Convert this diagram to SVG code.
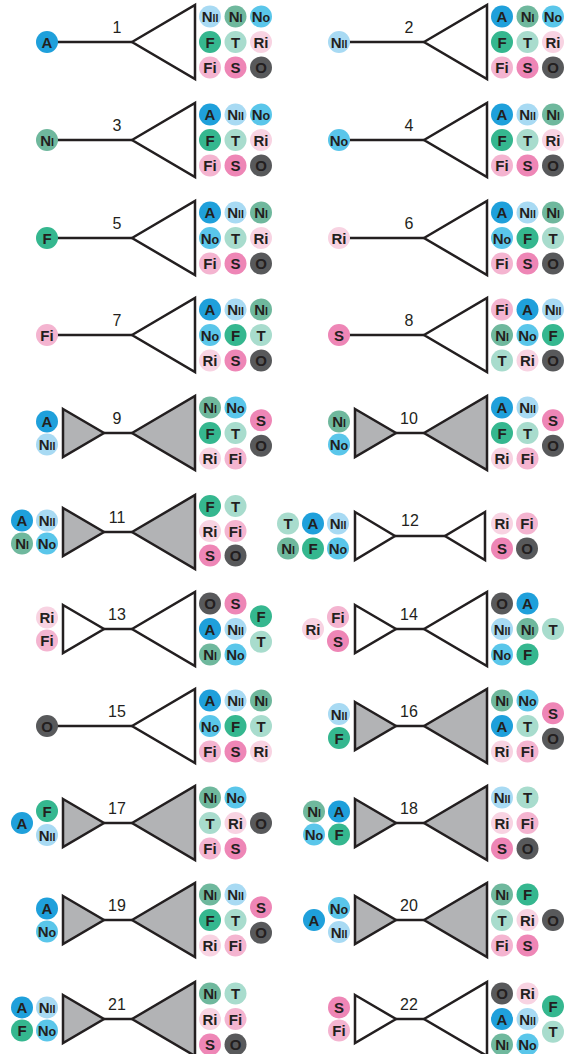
<svg xmlns="http://www.w3.org/2000/svg" xmlns:xlink="http://www.w3.org/1999/xlink" width="567" height="1054" viewBox="0 0 567 1054">
<style>
.tri{stroke:#231f20;stroke-width:2.5;stroke-linejoin:miter;fill:#fff}
.gr{fill:#b2b3b5}
.lbl{font-family:"Liberation Sans",Arial,sans-serif;font-size:16px;fill:#231f20;text-anchor:middle}
.con line{stroke:#231f20;stroke-width:2.5}
</style>
<defs>
<g id="tA"><circle r="11" fill="#1fa0db"/><text y="5.5" font-family="Liberation Sans, Arial, sans-serif" font-weight="700" font-size="15" text-anchor="middle" fill="#231f20">A</text></g>
<g id="tNii"><circle r="11" fill="#a8daf3"/><text y="5.5" font-family="Liberation Sans, Arial, sans-serif" font-weight="700" font-size="15" text-anchor="middle" fill="#231f20">N<tspan font-size="10.5">II</tspan></text></g>
<g id="tNi"><circle r="11" fill="#6fb89d"/><text y="5.5" font-family="Liberation Sans, Arial, sans-serif" font-weight="700" font-size="15" text-anchor="middle" fill="#231f20">N<tspan font-size="10.5">I</tspan></text></g>
<g id="tNo"><circle r="11" fill="#5ac6ea"/><text y="5.5" font-family="Liberation Sans, Arial, sans-serif" font-weight="700" font-size="15" text-anchor="middle" fill="#231f20">N<tspan font-size="12.5">o</tspan></text></g>
<g id="tF"><circle r="11" fill="#35b78f"/><text y="5.5" font-family="Liberation Sans, Arial, sans-serif" font-weight="700" font-size="15" text-anchor="middle" fill="#231f20">F</text></g>
<g id="tT"><circle r="11" fill="#a8dccd"/><text y="5.5" font-family="Liberation Sans, Arial, sans-serif" font-weight="700" font-size="15" text-anchor="middle" fill="#231f20">T</text></g>
<g id="tRi"><circle r="11" fill="#f8d3e2"/><text y="5.5" font-family="Liberation Sans, Arial, sans-serif" font-weight="700" font-size="15" text-anchor="middle" fill="#231f20">Ri</text></g>
<g id="tFi"><circle r="11" fill="#f4b4d0"/><text y="5.5" font-family="Liberation Sans, Arial, sans-serif" font-weight="700" font-size="15" text-anchor="middle" fill="#231f20">Fi</text></g>
<g id="tS"><circle r="11" fill="#ee86b6"/><text y="5.5" font-family="Liberation Sans, Arial, sans-serif" font-weight="700" font-size="15" text-anchor="middle" fill="#231f20">S</text></g>
<g id="tO"><circle r="11" fill="#58595b"/><text y="5.5" font-family="Liberation Sans, Arial, sans-serif" font-weight="700" font-size="15" text-anchor="middle" fill="#231f20">O</text></g>
<polygon id="big" class="tri" points="132,0 195,-37 195,37"/>
<polygon id="bigG" class="tri gr" points="132,0 195,-37 195,37"/>
<polygon id="sm" class="tri" points="63,-24 104,0 63,24"/>
<polygon id="smG" class="tri gr" points="63,-24 104,0 63,24"/>
</defs>
<rect width="567" height="1054" fill="#fff"/>

<g id="connectors" class="con">
<line x1="47" y1="42" x2="132" y2="42"/>
<line x1="339" y1="42" x2="424" y2="42"/>
<line x1="47" y1="140" x2="132" y2="140"/>
<line x1="339" y1="140" x2="424" y2="140"/>
<line x1="47" y1="238" x2="132" y2="238"/>
<line x1="339" y1="238" x2="424" y2="238"/>
<line x1="47" y1="335" x2="132" y2="335"/>
<line x1="339" y1="335" x2="424" y2="335"/>
<line x1="104" y1="433" x2="132" y2="433"/>
<line x1="396" y1="433" x2="424" y2="433"/>
<line x1="104" y1="532" x2="132" y2="532"/>
<line x1="395" y1="536" x2="445" y2="536"/>
<line x1="104" y1="629" x2="132" y2="629"/>
<line x1="396" y1="629" x2="424" y2="629"/>
<line x1="47" y1="726" x2="132" y2="726"/>
<line x1="396" y1="726" x2="424" y2="726"/>
<line x1="104" y1="823" x2="132" y2="823"/>
<line x1="396" y1="823" x2="424" y2="823"/>
<line x1="104" y1="920" x2="132" y2="920"/>
<line x1="396" y1="920" x2="424" y2="920"/>
<line x1="104" y1="1019" x2="132" y2="1019"/>
<line x1="396" y1="1019" x2="424" y2="1019"/>
</g>

<g id="p1" transform="translate(0,42)">
<use href="#big"/><text class="lbl" x="117" y="-9">1</text>
<use href="#tA" x="47" y="0"/>
<use href="#tNii" x="210" y="-25.5"/><use href="#tNi" x="235.5" y="-25.5"/><use href="#tNo" x="261" y="-25.5"/>
<use href="#tF" x="210" y="0"/><use href="#tT" x="235.5" y="0"/><use href="#tRi" x="261" y="0"/>
<use href="#tFi" x="210" y="25.5"/><use href="#tS" x="235.5" y="25.5"/><use href="#tO" x="261" y="25.5"/>
</g>
<g id="p2" transform="translate(292,42)">
<use href="#big"/><text class="lbl" x="117" y="-9">2</text>
<use href="#tNii" x="47" y="0"/>
<use href="#tA" x="210" y="-25.5"/><use href="#tNi" x="235.5" y="-25.5"/><use href="#tNo" x="261" y="-25.5"/>
<use href="#tF" x="210" y="0"/><use href="#tT" x="235.5" y="0"/><use href="#tRi" x="261" y="0"/>
<use href="#tFi" x="210" y="25.5"/><use href="#tS" x="235.5" y="25.5"/><use href="#tO" x="261" y="25.5"/>
</g>
<g id="p3" transform="translate(0,140)">
<use href="#big"/><text class="lbl" x="117" y="-9">3</text>
<use href="#tNi" x="47" y="0"/>
<use href="#tA" x="210" y="-25.5"/><use href="#tNii" x="235.5" y="-25.5"/><use href="#tNo" x="261" y="-25.5"/>
<use href="#tF" x="210" y="0"/><use href="#tT" x="235.5" y="0"/><use href="#tRi" x="261" y="0"/>
<use href="#tFi" x="210" y="25.5"/><use href="#tS" x="235.5" y="25.5"/><use href="#tO" x="261" y="25.5"/>
</g>
<g id="p4" transform="translate(292,140)">
<use href="#big"/><text class="lbl" x="117" y="-9">4</text>
<use href="#tNo" x="47" y="0"/>
<use href="#tA" x="210" y="-25.5"/><use href="#tNii" x="235.5" y="-25.5"/><use href="#tNi" x="261" y="-25.5"/>
<use href="#tF" x="210" y="0"/><use href="#tT" x="235.5" y="0"/><use href="#tRi" x="261" y="0"/>
<use href="#tFi" x="210" y="25.5"/><use href="#tS" x="235.5" y="25.5"/><use href="#tO" x="261" y="25.5"/>
</g>
<g id="p5" transform="translate(0,238)">
<use href="#big"/><text class="lbl" x="117" y="-9">5</text>
<use href="#tF" x="47" y="0"/>
<use href="#tA" x="210" y="-25.5"/><use href="#tNii" x="235.5" y="-25.5"/><use href="#tNi" x="261" y="-25.5"/>
<use href="#tNo" x="210" y="0"/><use href="#tT" x="235.5" y="0"/><use href="#tRi" x="261" y="0"/>
<use href="#tFi" x="210" y="25.5"/><use href="#tS" x="235.5" y="25.5"/><use href="#tO" x="261" y="25.5"/>
</g>
<g id="p6" transform="translate(292,238)">
<use href="#big"/><text class="lbl" x="117" y="-9">6</text>
<use href="#tRi" x="47" y="0"/>
<use href="#tA" x="210" y="-25.5"/><use href="#tNii" x="235.5" y="-25.5"/><use href="#tNi" x="261" y="-25.5"/>
<use href="#tNo" x="210" y="0"/><use href="#tF" x="235.5" y="0"/><use href="#tT" x="261" y="0"/>
<use href="#tFi" x="210" y="25.5"/><use href="#tS" x="235.5" y="25.5"/><use href="#tO" x="261" y="25.5"/>
</g>
<g id="p7" transform="translate(0,335)">
<use href="#big"/><text class="lbl" x="117" y="-9">7</text>
<use href="#tFi" x="47" y="0"/>
<use href="#tA" x="210" y="-25.5"/><use href="#tNii" x="235.5" y="-25.5"/><use href="#tNi" x="261" y="-25.5"/>
<use href="#tNo" x="210" y="0"/><use href="#tF" x="235.5" y="0"/><use href="#tT" x="261" y="0"/>
<use href="#tRi" x="210" y="25.5"/><use href="#tS" x="235.5" y="25.5"/><use href="#tO" x="261" y="25.5"/>
</g>
<g id="p8" transform="translate(292,335)">
<use href="#big"/><text class="lbl" x="117" y="-9">8</text>
<use href="#tS" x="47" y="0"/>
<use href="#tFi" x="210" y="-25.5"/><use href="#tA" x="235.5" y="-25.5"/><use href="#tNii" x="261" y="-25.5"/>
<use href="#tNi" x="210" y="0"/><use href="#tNo" x="235.5" y="0"/><use href="#tF" x="261" y="0"/>
<use href="#tT" x="210" y="25.5"/><use href="#tRi" x="235.5" y="25.5"/><use href="#tO" x="261" y="25.5"/>
</g>
<g id="p9" transform="translate(0,433)">
<use href="#smG"/><use href="#bigG"/><text class="lbl" x="117" y="-9">9</text>
<use href="#tA" x="47" y="-11.5"/><use href="#tNii" x="47" y="11.5"/>
<use href="#tNi" x="210" y="-25.5"/><use href="#tNo" x="235.5" y="-25.5"/><use href="#tS" x="261" y="-12.75"/>
<use href="#tF" x="210" y="0"/><use href="#tT" x="235.5" y="0"/><use href="#tO" x="261" y="12.75"/>
<use href="#tRi" x="210" y="25.5"/><use href="#tFi" x="235.5" y="25.5"/>
</g>
<g id="p10" transform="translate(292,433)">
<use href="#smG"/><use href="#bigG"/><text class="lbl" x="117" y="-9">10</text>
<use href="#tNi" x="47" y="-11.5"/><use href="#tNo" x="47" y="11.5"/>
<use href="#tA" x="210" y="-25.5"/><use href="#tNii" x="235.5" y="-25.5"/><use href="#tS" x="261" y="-12.75"/>
<use href="#tF" x="210" y="0"/><use href="#tT" x="235.5" y="0"/><use href="#tO" x="261" y="12.75"/>
<use href="#tRi" x="210" y="25.5"/><use href="#tFi" x="235.5" y="25.5"/>
</g>
<g id="p11" transform="translate(0,532)">
<use href="#smG"/><use href="#bigG"/><text class="lbl" x="117" y="-9">11</text>
<use href="#tA" x="22" y="-11.5"/><use href="#tNii" x="47" y="-11.5"/>
<use href="#tNi" x="22" y="11.5"/><use href="#tNo" x="47" y="11.5"/>
<use href="#tF" x="210" y="-26"/><use href="#tT" x="235.5" y="-26"/>
<use href="#tRi" x="210" y="-1"/><use href="#tFi" x="235.5" y="-1"/>
<use href="#tS" x="210" y="23.5"/><use href="#tO" x="235.5" y="23.5"/>
</g>
<g id="p12" transform="translate(292,536)">
<polygon class="tri" points="63,-24 103,0 63,24"/>
<polygon class="tri" points="193,-24 153,0 193,24"/>
<text class="lbl" x="118" y="-10">12</text>
<use href="#tT" x="-4" y="-12.5"/><use href="#tA" x="21" y="-12.5"/><use href="#tNii" x="46" y="-12.5"/>
<use href="#tNi" x="-4" y="12.5"/><use href="#tF" x="21" y="12.5"/><use href="#tNo" x="46" y="12.5"/>
<use href="#tRi" x="210" y="-12.5"/><use href="#tFi" x="235" y="-12.5"/>
<use href="#tS" x="210" y="12.5"/><use href="#tO" x="235" y="12.5"/>
</g>
<g id="p13" transform="translate(0,629)">
<use href="#sm"/><use href="#big"/><text class="lbl" x="117" y="-9">13</text>
<use href="#tRi" x="47" y="-11.5"/><use href="#tFi" x="47" y="11.5"/>
<use href="#tO" x="210" y="-25.5"/><use href="#tS" x="235.5" y="-25.5"/><use href="#tF" x="261" y="-12.75"/>
<use href="#tA" x="210" y="0"/><use href="#tNii" x="235.5" y="0"/><use href="#tT" x="261" y="12.75"/>
<use href="#tNi" x="210" y="25.5"/><use href="#tNo" x="235.5" y="25.5"/>
</g>
<g id="p14" transform="translate(292,629)">
<use href="#sm"/><use href="#big"/><text class="lbl" x="117" y="-9">14</text>
<use href="#tRi" x="21" y="0"/><use href="#tFi" x="46" y="-12"/><use href="#tS" x="46" y="12"/>
<use href="#tO" x="210" y="-25.5"/><use href="#tA" x="235.5" y="-25.5"/>
<use href="#tNii" x="210" y="0"/><use href="#tNi" x="235.5" y="0"/><use href="#tT" x="261" y="0"/>
<use href="#tNo" x="210" y="25.5"/><use href="#tF" x="235.5" y="25.5"/>
</g>
<g id="p15" transform="translate(0,726)">
<use href="#big"/><text class="lbl" x="117" y="-9">15</text>
<use href="#tO" x="47" y="0"/>
<use href="#tA" x="210" y="-25.5"/><use href="#tNii" x="235.5" y="-25.5"/><use href="#tNi" x="261" y="-25.5"/>
<use href="#tNo" x="210" y="0"/><use href="#tF" x="235.5" y="0"/><use href="#tT" x="261" y="0"/>
<use href="#tFi" x="210" y="25.5"/><use href="#tS" x="235.5" y="25.5"/><use href="#tRi" x="261" y="25.5"/>
</g>
<g id="p16" transform="translate(292,726)">
<use href="#smG"/><use href="#bigG"/><text class="lbl" x="117" y="-9">16</text>
<use href="#tNii" x="47" y="-12"/><use href="#tF" x="47" y="12"/>
<use href="#tNi" x="210" y="-25.5"/><use href="#tNo" x="235.5" y="-25.5"/><use href="#tS" x="261" y="-12.75"/>
<use href="#tA" x="210" y="0"/><use href="#tT" x="235.5" y="0"/><use href="#tO" x="261" y="12.75"/>
<use href="#tRi" x="210" y="25.5"/><use href="#tFi" x="235.5" y="25.5"/>
</g>
<g id="p17" transform="translate(0,823)">
<use href="#smG"/><use href="#bigG"/><text class="lbl" x="117" y="-9">17</text>
<use href="#tA" x="22" y="0"/><use href="#tF" x="47" y="-12"/><use href="#tNii" x="47" y="12"/>
<use href="#tNi" x="210" y="-25.5"/><use href="#tNo" x="235.5" y="-25.5"/>
<use href="#tT" x="210" y="0"/><use href="#tRi" x="235.5" y="0"/><use href="#tO" x="261" y="0"/>
<use href="#tFi" x="210" y="25.5"/><use href="#tS" x="235.5" y="25.5"/>
</g>
<g id="p18" transform="translate(292,823)">
<use href="#smG"/><use href="#bigG"/><text class="lbl" x="117" y="-9">18</text>
<use href="#tNi" x="22" y="-11.5"/><use href="#tA" x="47" y="-11.5"/>
<use href="#tNo" x="22" y="11.5"/><use href="#tF" x="47" y="11.5"/>
<use href="#tNii" x="210" y="-25.5"/><use href="#tT" x="235.5" y="-25.5"/>
<use href="#tRi" x="210" y="0"/><use href="#tFi" x="235.5" y="0"/>
<use href="#tS" x="210" y="25.5"/><use href="#tO" x="235.5" y="25.5"/>
</g>
<g id="p19" transform="translate(0,920)">
<use href="#smG"/><use href="#bigG"/><text class="lbl" x="117" y="-9">19</text>
<use href="#tA" x="47" y="-11.5"/><use href="#tNo" x="47" y="11.5"/>
<use href="#tNi" x="210" y="-25.5"/><use href="#tNii" x="235.5" y="-25.5"/><use href="#tS" x="261" y="-12.75"/>
<use href="#tF" x="210" y="0"/><use href="#tT" x="235.5" y="0"/><use href="#tO" x="261" y="12.75"/>
<use href="#tRi" x="210" y="25.5"/><use href="#tFi" x="235.5" y="25.5"/>
</g>
<g id="p20" transform="translate(292,920)">
<use href="#smG"/><use href="#bigG"/><text class="lbl" x="117" y="-9">20</text>
<use href="#tA" x="22" y="0"/><use href="#tNo" x="47" y="-12"/><use href="#tNii" x="47" y="12"/>
<use href="#tNi" x="210" y="-25.5"/><use href="#tF" x="235.5" y="-25.5"/>
<use href="#tT" x="210" y="0"/><use href="#tRi" x="235.5" y="0"/><use href="#tO" x="261" y="0"/>
<use href="#tFi" x="210" y="25.5"/><use href="#tS" x="235.5" y="25.5"/>
</g>
<g id="p21" transform="translate(0,1019)">
<use href="#smG"/><use href="#bigG"/><text class="lbl" x="117" y="-9">21</text>
<use href="#tA" x="22" y="-11.5"/><use href="#tNii" x="47" y="-11.5"/>
<use href="#tF" x="22" y="11.5"/><use href="#tNo" x="47" y="11.5"/>
<use href="#tNi" x="210" y="-25.5"/><use href="#tT" x="235.5" y="-25.5"/>
<use href="#tRi" x="210" y="0"/><use href="#tFi" x="235.5" y="0"/>
<use href="#tS" x="210" y="25.5"/><use href="#tO" x="235.5" y="25.5"/>
</g>
<g id="p22" transform="translate(292,1019)">
<use href="#sm"/><use href="#big"/><text class="lbl" x="117" y="-9">22</text>
<use href="#tS" x="47" y="-11.5"/><use href="#tFi" x="47" y="11.5"/>
<use href="#tO" x="210" y="-25.5"/><use href="#tRi" x="235.5" y="-25.5"/><use href="#tF" x="261" y="-12.75"/>
<use href="#tA" x="210" y="0"/><use href="#tNii" x="235.5" y="0"/><use href="#tT" x="261" y="12.75"/>
<use href="#tNi" x="210" y="25.5"/><use href="#tNo" x="235.5" y="25.5"/>
</g>
</svg>
